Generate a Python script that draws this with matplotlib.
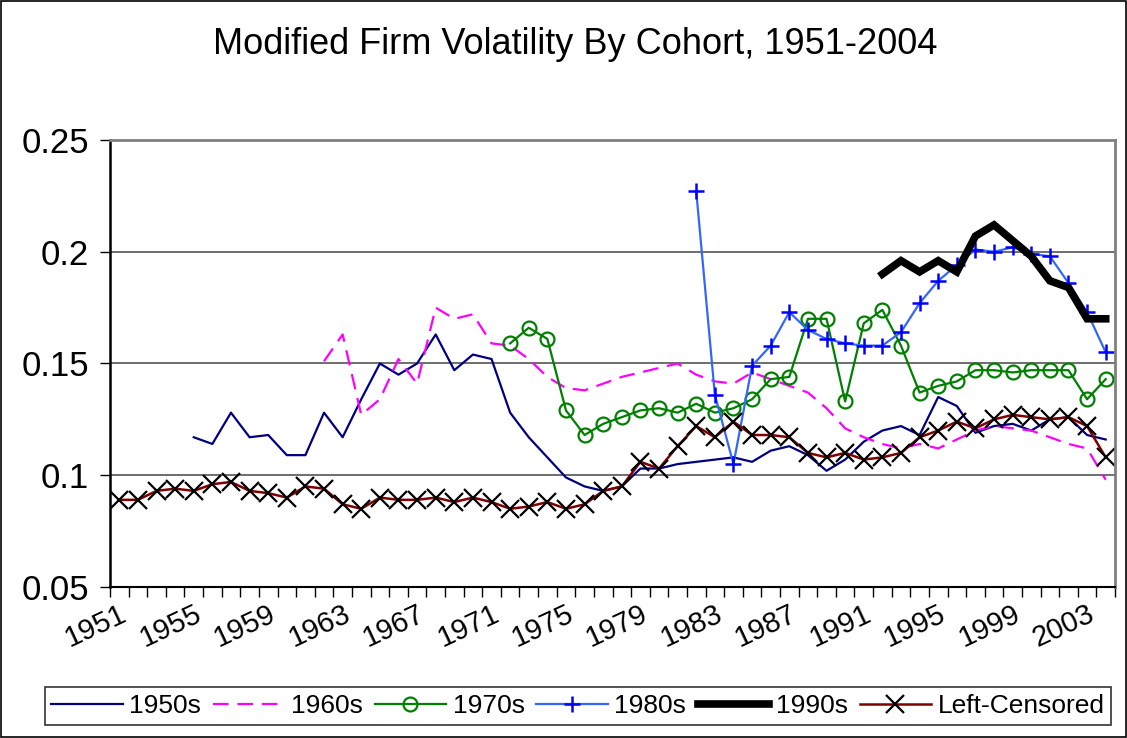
"""Modified firm volatility by cohort, 1951-2004 (Excel-style line chart)."""

import numpy as np
import matplotlib
matplotlib.use("Agg")
import matplotlib.pyplot as plt
from matplotlib.patches import Rectangle
from matplotlib.ticker import FixedLocator, NullFormatter

plt.rcParams["font.family"] = ["Liberation Sans", "DejaVu Sans"]

# ── data ──────────────────────────────────────────────────────────────
YEARS = list(range(1951, 2005))
YEAR_LABELS = list(range(1951, 2004, 4))
Y_TICKS = [0.05, 0.1, 0.15, 0.2, 0.25]
Y_LABELS = ["0.05", "0.1", "0.15", "0.2", "0.25"]

START_1950S = 1955
VOL_1950S = [0.117, 0.114, 0.128, 0.117, 0.118, 0.109, 0.109, 0.128, 0.117,
             0.134, 0.150, 0.145, 0.150, 0.163, 0.147, 0.154, 0.152, 0.128,
             0.117, 0.108, 0.099, 0.095, 0.093, 0.095, 0.103, 0.103, 0.105,
             0.106, 0.107, 0.108, 0.106, 0.111, 0.113, 0.109, 0.102, 0.107,
             0.115, 0.120, 0.122, 0.118, 0.135, 0.131, 0.119, 0.122, 0.123,
             0.120, 0.125, 0.126, 0.118, 0.116]

START_1960S = 1962
VOL_1960S = [0.151, 0.163, 0.127, 0.134, 0.152, 0.141, 0.175, 0.170, 0.172,
             0.159, 0.158, 0.152, 0.144, 0.139, 0.138, 0.141, 0.144, 0.146,
             0.148, 0.150, 0.145, 0.142, 0.141, 0.146, 0.143, 0.140, 0.137,
             0.130, 0.121, 0.117, 0.114, 0.112, 0.114, 0.112, 0.116, 0.120,
             0.122, 0.121, 0.120, 0.117, 0.114, 0.112, 0.098]

START_1970S = 1972
VOL_1970S = [0.159, 0.166, 0.161, 0.129, 0.118, 0.123, 0.126, 0.129, 0.130,
             0.128, 0.132, 0.128, 0.130, 0.134, 0.143, 0.144, 0.170, 0.170,
             0.133, 0.168, 0.174, 0.158, 0.137, 0.140, 0.142, 0.147, 0.147,
             0.146, 0.147, 0.147, 0.147, 0.134, 0.143]

START_1980S = 1982
VOL_1980S = [0.227, 0.136, 0.105, 0.149, 0.158, 0.173, 0.165, 0.161, 0.159,
             0.158, 0.158, 0.164, 0.177, 0.187, 0.194, 0.201, 0.200, 0.202,
             0.199, 0.198, 0.186, 0.173, 0.155]

START_1990S = 1992
VOL_1990S = [0.190, 0.196, 0.191, 0.196, 0.191, 0.207, 0.212, 0.205, 0.198,
             0.187, 0.184, 0.170, 0.170]

START_LEFT = 1951
VOL_LEFT = [0.089, 0.089, 0.093, 0.094, 0.093, 0.096, 0.097, 0.093, 0.092,
            0.090, 0.095, 0.094, 0.087, 0.085, 0.090, 0.089, 0.089, 0.090,
            0.088, 0.090, 0.088, 0.085, 0.086, 0.088, 0.085, 0.087, 0.093,
            0.095, 0.106, 0.103, 0.113, 0.122, 0.117, 0.124, 0.118, 0.118,
            0.117, 0.110, 0.108, 0.110, 0.107, 0.108, 0.110, 0.117, 0.120,
            0.124, 0.121, 0.125, 0.127, 0.126, 0.125, 0.126, 0.122, 0.108]


def xs(start, vals):
    return np.arange(start, start + len(vals))


def main():
    fig = plt.figure(figsize=(11.27, 7.38), dpi=100)
    fig.patches.append(Rectangle((0.001, 0.001), 0.998, 0.998, transform=fig.transFigure,
                                 fill=False, edgecolor="black", lw=1.2))
    ax = fig.add_axes([110 / 1127, 151 / 738, 1005 / 1127, 447 / 738])

    ax.plot(xs(START_1950S, VOL_1950S), VOL_1950S, color="#000080", lw=1.6,
            label="1950s")
    ax.plot(xs(START_1960S, VOL_1960S), VOL_1960S, color="#FF00FF", lw=1.6,
            dashes=(7, 4), label="1960s")
    ax.plot(xs(START_1970S, VOL_1970S), VOL_1970S, color="#008000", lw=1.6,
            marker="o", ms=10, mfc="none", mec="#008000", mew=1.6, label="1970s")
    ax.plot(xs(START_1980S, VOL_1980S), VOL_1980S, color="#3366FF", lw=1.6,
            marker="+", ms=12, mec="#0000FF", mew=1.8, label="1980s")
    ax.plot(xs(START_1990S, VOL_1990S), VOL_1990S, color="black", lw=5.5,
            solid_joinstyle="miter", label="1990s")
    ax.plot(xs(START_LEFT, VOL_LEFT), VOL_LEFT, color="#800000", lw=1.8,
            marker="x", ms=13, mec="black", mew=1.6, label="Left-Censored")

    ax.set_xlim(YEARS[0] - 0.5, YEARS[-1] + 0.5)
    ax.set_ylim(0.05, 0.25)

    # Excel category axis: tick marks between categories, labels every 4 years
    ax.xaxis.set_major_locator(FixedLocator(np.arange(YEARS[0] - 0.5, YEARS[-1] + 1)))
    ax.xaxis.set_major_formatter(NullFormatter())
    ax.xaxis.set_minor_locator(FixedLocator(YEAR_LABELS))
    ax.set_xticklabels([str(y) for y in YEAR_LABELS], minor=True, rotation=25,
                       ha="right", rotation_mode="anchor", fontsize=21)
    ax.tick_params(axis="x", which="major", direction="out", length=7, width=1,
                   color="black")
    ax.tick_params(axis="x", which="minor", length=0, pad=9)

    ax.set_yticks(Y_TICKS)
    ax.set_yticklabels(Y_LABELS, fontsize=25)
    ax.tick_params(axis="y", direction="out", length=7, width=1, pad=8)

    ax.yaxis.grid(True, color="#555555", lw=1.2)
    ax.set_axisbelow(True)
    for side in ("top", "right"):
        ax.spines[side].set_color("#808080")
        ax.spines[side].set_linewidth(2)
    ax.spines["left"].set_linewidth(1.8)
    ax.spines["bottom"].set_linewidth(1.5)

    fig.text(0.51, 1 - 45 / 738, "Modified Firm Volatility By Cohort, 1951-2004",
             ha="center", va="center", fontsize=26)

    leg = fig.legend(loc="center", bbox_to_anchor=(578 / 1127, 1 - 706 / 738),
                     ncol=6, fontsize=19, frameon=True, fancybox=False,
                     handlelength=2.7, handletextpad=0.25, columnspacing=0.45,
                     borderpad=0.25, borderaxespad=0)
    leg.get_frame().set_edgecolor("black")
    leg.get_frame().set_linewidth(1.2)

    fig.savefig("out.png", dpi=100)
    plt.close(fig)


if __name__ == "__main__":
    main()
